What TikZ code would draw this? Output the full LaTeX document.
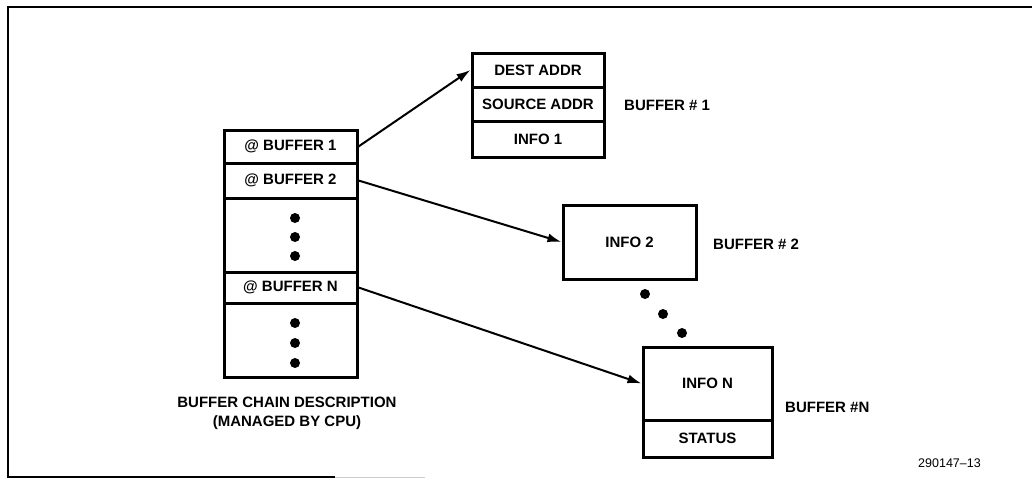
\documentclass[tikz,border=0pt]{standalone}
\usepackage{fontspec}
\setmainfont{Liberation Sans}
\usetikzlibrary{arrows.meta}
\begin{document}
\begin{tikzpicture}[x=1pt,y=-1pt,
  cell/.style={draw,line width=3pt,rectangle,inner sep=0pt,font=\bfseries\fontsize{15}{17}\selectfont},
  lbl/.style={anchor=west,inner sep=0pt,font=\bfseries\fontsize{15}{17}\selectfont},
  dot/.style={circle,fill,inner sep=0pt,minimum size=10pt},
  ptr/.style={line width=2pt,-{Latex[length=14pt,width=9pt]}}]
\useasboundingbox (0,0) rectangle (1032,479);
% frame
\draw[line width=1.5pt] (1032,7) -- (8,7) -- (8,477) -- (335,477);
\draw[line width=1pt,gray!40] (335,477) -- (425,477);
% stack
\node[cell,minimum width=133pt,minimum height=33pt] (b1) at (290.5,146.5) {@ BUFFER 1};
\node[cell,minimum width=133pt,minimum height=35pt] (b2) at (290.5,180.5) {@ BUFFER 2};
\node[cell,minimum width=133pt,minimum height=74pt] (d1) at (290.5,235) {};
\node[cell,minimum width=133pt,minimum height=31pt] (bN) at (290.5,287.5) {@ BUFFER N};
\node[cell,minimum width=133pt,minimum height=74pt] (d2) at (290.5,340) {};
\node[dot] (d1a) at (295,218) {};
\node[dot] (d1b) at (295,237) {};
\node[dot] (d1c) at (295,256) {};
\node[dot] (d2a) at (295,323) {};
\node[dot] (d2b) at (295,343) {};
\node[dot] (d2c) at (295,363) {};
\node[inner sep=0pt,font=\bfseries\fontsize{15}{19}\selectfont,align=center] (cap) at (287,413.5) {BUFFER CHAIN DESCRIPTION\\(MANAGED BY CPU)};
% buffer 1
\node[cell,minimum width=132pt,minimum height=34pt] (dest) at (538,70) {DEST ADDR};
\node[cell,minimum width=132pt,minimum height=34pt] (src) at (538,104) {SOURCE ADDR};
\node[cell,minimum width=132pt,minimum height=36pt] (info1) at (538,139) {INFO 1};
\node[lbl] (lb1) at (624,105) {BUFFER \# 1};
% buffer 2
\node[cell,minimum width=133pt,minimum height=74pt] (info2) at (629.5,242) {INFO 2};
\node[lbl] (lb2) at (713,244) {BUFFER \# 2};
\node[dot] (m1) at (645,294) {};
\node[dot] (m2) at (663,314) {};
\node[dot] (m3) at (682,333) {};
% buffer N
\node[cell,minimum width=129pt,minimum height=73pt] (infoN) at (707.5,383.5) {INFO N};
\node[cell,minimum width=129pt,minimum height=37pt] (status) at (707.5,438.5) {STATUS};
\node[lbl] (lbN) at (785,407) {BUFFER \#N};
\node[anchor=east,inner sep=0pt,font=\fontsize{12.5}{14}\selectfont] (fig) at (981,463) {290147--13};
% pointers
\draw[ptr] (b1.east) -- (dest.west);
\draw[ptr] (b2.east) -- (info2.west);
\draw[ptr] (bN.east) -- (infoN.west);
\end{tikzpicture}
\end{document}
